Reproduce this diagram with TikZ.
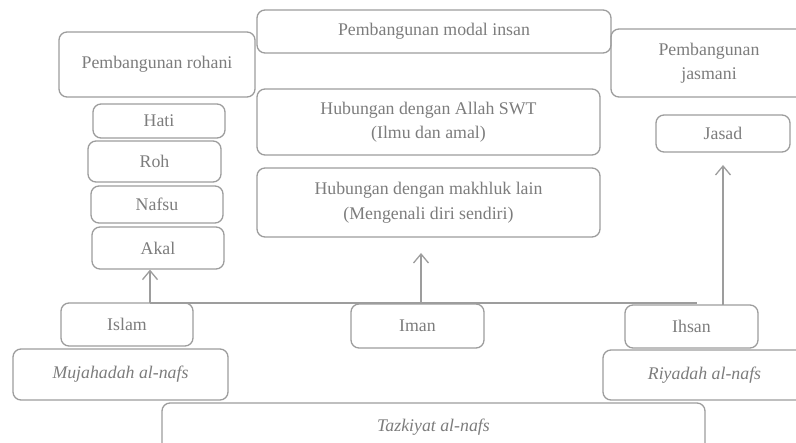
\documentclass[tikz,border=0pt]{standalone}
\usepackage{fontspec}
\setmainfont{Liberation Serif}
\usepackage{xcolor}
\usepackage{tikz}
\usetikzlibrary{arrows.meta,calc,positioning}

\definecolor{garis}{HTML}{9D9D9D}
\definecolor{tulisan}{HTML}{7C7C7C}

\tikzset{
  kotak/.style={draw=garis, line width=1.3pt, rounded corners=8pt, text=tulisan,
    align=center, inner sep=0pt, font=\fontsize{17.8}{24.5}\selectfont},
  miring/.style={kotak, font=\fontsize{17.8}{24.5}\selectfont\itshape},
  panah/.style={draw=garis, line width=1.3pt, -{Straight Barb[length=9pt,width=15pt]}},
  sambung/.style={draw=garis, line width=1.3pt}
}

\begin{document}
\begin{tikzpicture}[x=1pt,y=-1pt]
\useasboundingbox (0,0) rectangle (796,443);
\clip (0,0) rectangle (796,443);
% atas
\node[kotak, minimum width=196, minimum height=65] (rohani) at (157,64.5) {Pembangunan rohani};
\node[kotak, minimum width=354, minimum height=43] (modal) at (434,31.5) {Pembangunan modal insan};
\node[kotak, minimum width=196, minimum height=68] (jasmani) at (709,63) {Pembangunan\\jasmani};
% rohani
\node[kotak, minimum width=132, minimum height=34] (hati) at (159,121) {Hati};
\node[kotak, minimum width=133, minimum height=41] (roh) at (154.5,161.5) {Roh};
\node[kotak, minimum width=132, minimum height=37] (nafsu) at (157,204.5) {Nafsu};
\node[kotak, minimum width=132, minimum height=42] (akal) at (158,248) {Akal};
% modal insan
\node[kotak, minimum width=343, minimum height=66] (allah) at (428.5,122) {Hubungan dengan Allah SWT\\(Ilmu dan amal)};
\node[kotak, minimum width=343, minimum height=69] (makhluk) at (428.5,202.5) {Hubungan dengan makhluk lain\\(Mengenali diri sendiri)};
% jasmani
\node[kotak, minimum width=134, minimum height=37] (jasad) at (723,133.5) {Jasad};
% bawah
\node[kotak, minimum width=132, minimum height=43] (islam) at (127,324.5) {Islam};
\node[kotak, minimum width=133, minimum height=44] (iman) at (417.5,326) {Iman};
\node[kotak, minimum width=133, minimum height=43] (ihsan) at (691.5,326.5) {Ihsan};
\node[miring, minimum width=215, minimum height=51] (mujahadah) at (120.5,374.5) {Mujahadah al-nafs};
\node[miring, minimum width=203, minimum height=50] (riyadah) at (704.5,375) {Riyadah al-nafs};
\node[miring, minimum width=543, minimum height=48] (tazkiyat) at (433.5,427) {Tazkiyat al-nafs};
% garis dan anak panah
\coordinate (kiri) at (150,303);
\coordinate (tengah) at (421,303);
\coordinate (hujung) at (697,303);
\coordinate (imantuju) at (421,253);
\coordinate (kanan) at (723,305);
\coordinate (ihsantuju) at (723,165);
\draw[sambung] (kiri) -- (hujung);
\draw[panah] (kiri) -- (kiri |- akal.south);
\draw[panah] (tengah) -- (imantuju);
\draw[panah] (kanan) -- (ihsantuju);
%\draw[panah] (ihsan.north) -- (jasad.south);
\end{tikzpicture}
\end{document}
